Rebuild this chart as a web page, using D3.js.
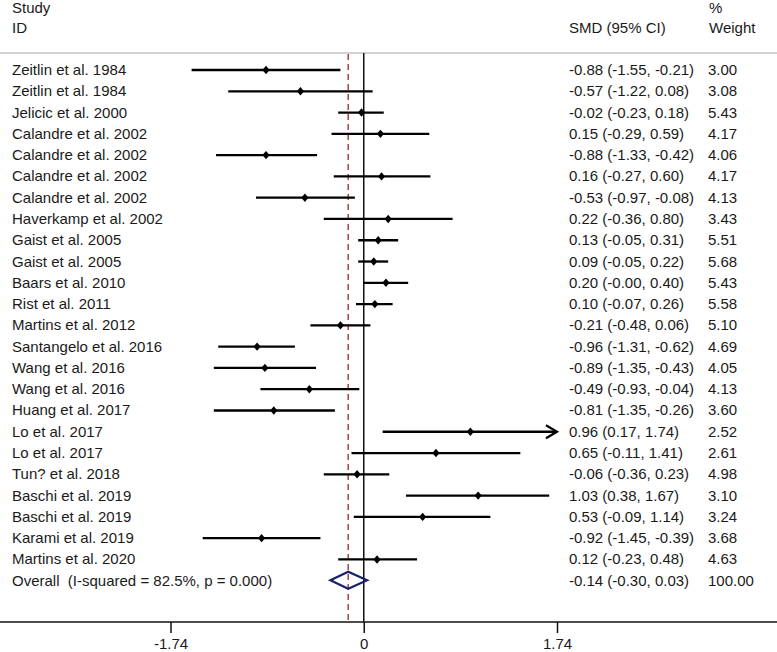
<!DOCTYPE html>
<html>
<head>
<meta charset="utf-8">
<script src="https://cdn.jsdelivr.net/npm/d3@7"></script>
<style>
  html, body { margin: 0; padding: 0; background: #fff; }
  svg text { font-family: "Liberation Sans", Arial, sans-serif; fill: #1a1a1a; white-space: pre; }
</style>
</head>
<body>
<svg id="chart" width="777" height="652"></svg>
<script>
// ---- data ----
const studies = [
  "Zeitlin et al. 1984", "Zeitlin et al. 1984", "Jelicic et al. 2000",
  "Calandre et al. 2002", "Calandre et al. 2002", "Calandre et al. 2002", "Calandre et al. 2002",
  "Haverkamp et al. 2002", "Gaist et al. 2005", "Gaist et al. 2005", "Baars et al. 2010",
  "Rist et al. 2011", "Martins et al. 2012", "Santangelo et al. 2016", "Wang et al. 2016",
  "Wang et al. 2016", "Huang et al. 2017", "Lo et al. 2017", "Lo et al. 2017",
  "Tun? et al. 2018", "Baschi et al. 2019", "Baschi et al. 2019", "Karami et al. 2019",
  "Martins et al. 2020"
];
const smd   = [-0.88, -0.57, -0.02, 0.15, -0.88, 0.16, -0.53, 0.22, 0.13, 0.09, 0.20, 0.10, -0.21, -0.96, -0.89, -0.49, -0.81, 0.96, 0.65, -0.06, 1.03, 0.53, -0.92, 0.12];
const lower = [-1.55, -1.22, -0.23, -0.29, -1.33, -0.27, -0.97, -0.36, -0.05, -0.05, -0.001, -0.07, -0.48, -1.31, -1.35, -0.93, -1.35, 0.17, -0.11, -0.36, 0.38, -0.09, -1.45, -0.23];
const upper = [-0.21, 0.08, 0.18, 0.59, -0.42, 0.60, -0.08, 0.80, 0.31, 0.22, 0.40, 0.26, 0.06, -0.62, -0.43, -0.04, -0.26, 1.74, 1.41, 0.23, 1.67, 1.14, -0.39, 0.48];
const weights = ["3.00", "3.08", "5.43", "4.17", "4.06", "4.17", "4.13", "3.43", "5.51", "5.68", "5.43", "5.58", "5.10", "4.69", "4.05", "4.13", "3.60", "2.52", "2.61", "4.98", "3.10", "3.24", "3.68", "4.63"];
const overallLabel = "Overall  (I-squared = 82.5%, p = 0.000)";
const overall = { est: -0.14, lo: -0.30, hi: 0.03, weight: "100.00" };
const tickValues = [-1.74, 0, 1.74];
const tickLabels = ["-1.74", "0", "1.74"];
const headers = { study1: "Study", study2: "ID", smd: "SMD (95% CI)", w1: "%", w2: "Weight" };

// ---- layout ----
const W = 777, H = 652;
const svg = d3.select("#chart");
const fmt = v => (v < 0 ? "-" : "") + Math.abs(v).toFixed(2);

const x = d3.scaleLinear().domain([-1.74, 1.74]).range([170.5, 557]);
const rowY = d3.scaleLinear().domain([0, 1]).range([75, 75 + 21.28]); // baseline positions
const n = studies.length;

const axisY = 622, topY = 53;
const fs = 15;

// header
svg.append("text").attr("x", 12).attr("y", 13).attr("font-size", fs).text(headers.study1);
svg.append("text").attr("x", 12).attr("y", 33).attr("font-size", fs).text(headers.study2);
svg.append("text").attr("x", 569).attr("y", 33).attr("font-size", fs).text(headers.smd);
svg.append("text").attr("x", 709).attr("y", 13).attr("font-size", fs).text(headers.w1);
svg.append("text").attr("x", 709).attr("y", 33).attr("font-size", fs).text(headers.w2);
svg.append("line").attr("x1", 0).attr("x2", W).attr("y1", topY).attr("y2", topY)
  .attr("stroke", "#c4c4c4").attr("stroke-width", 1.3);

// zero line and overall dashed line
svg.append("line").attr("x1", x(0)).attr("x2", x(0)).attr("y1", topY).attr("y2", axisY)
  .attr("stroke", "#111").attr("stroke-width", 1.5);
svg.append("line").attr("x1", x(overall.est)).attr("x2", x(overall.est)).attr("y1", topY + 1).attr("y2", axisY)
  .attr("stroke", "#a8333a").attr("stroke-width", 1.4).attr("stroke-dasharray", "6,4");

// rows
const rows = svg.append("g");
studies.forEach((s, i) => {
  const yb = rowY(i);
  const yc = yb - 5;
  rows.append("text").attr("x", 12).attr("y", yb).attr("font-size", fs).text(s);
  rows.append("text").attr("x", 569).attr("y", yb).attr("font-size", fs)
    .text(`${fmt(smd[i])} (${fmt(lower[i])}, ${fmt(upper[i])})`);
  rows.append("text").attr("x", 708).attr("y", yb).attr("font-size", fs).text(weights[i]);
  const x1 = x(lower[i]), x2 = x(upper[i]);
  rows.append("line").attr("x1", x1).attr("x2", x2).attr("y1", yc).attr("y2", yc)
    .attr("stroke", "#000").attr("stroke-width", 2.3);
  if (upper[i] >= 1.74) {
    rows.append("path")
      .attr("d", `M${x2 - 11},${yc - 6.5} L${x2},${yc} L${x2 - 11},${yc + 6.5}`)
      .attr("fill", "none").attr("stroke", "#000").attr("stroke-width", 2.2);
  }
  const cx = x(smd[i]);
  rows.append("path")
    .attr("d", `M${cx},${yc - 4.2} L${cx + 3.6},${yc} L${cx},${yc + 4.2} L${cx - 3.6},${yc} Z`)
    .attr("fill", "#000");
});

// overall
const yo = rowY(n), yoc = yo - 5.5;
svg.append("text").attr("x", 12).attr("y", yo).attr("font-size", fs).text(overallLabel);
svg.append("text").attr("x", 569).attr("y", yo).attr("font-size", fs)
  .text(`${fmt(overall.est)} (${fmt(overall.lo)}, ${fmt(overall.hi)})`);
svg.append("text").attr("x", 708).attr("y", yo).attr("font-size", fs).text(overall.weight);
svg.append("path")
  .attr("d", `M${x(overall.lo)},${yoc} L${x(overall.est)},${yoc - 8.5} L${x(overall.hi)},${yoc} L${x(overall.est)},${yoc + 8.5} Z`)
  .attr("fill", "none").attr("stroke", "#1a1f6e").attr("stroke-width", 2.2).attr("stroke-linejoin", "miter");

// axis
svg.append("line").attr("x1", 0).attr("x2", W).attr("y1", axisY).attr("y2", axisY)
  .attr("stroke", "#111").attr("stroke-width", 1.5);
const axis = d3.axisBottom(x).tickValues(tickValues).tickSize(11).tickPadding(5)
  .tickFormat((d, i) => tickLabels[i]);
const ag = svg.append("g").attr("transform", `translate(0,${axisY})`).call(axis);
ag.select(".domain").remove();
ag.selectAll(".tick line").attr("stroke", "#111").attr("stroke-width", 1.5);
ag.selectAll(".tick text").attr("font-size", fs).attr("font-family", "Liberation Sans, Arial, sans-serif").attr("fill", "#1a1a1a");
</script>
</body>
</html>
